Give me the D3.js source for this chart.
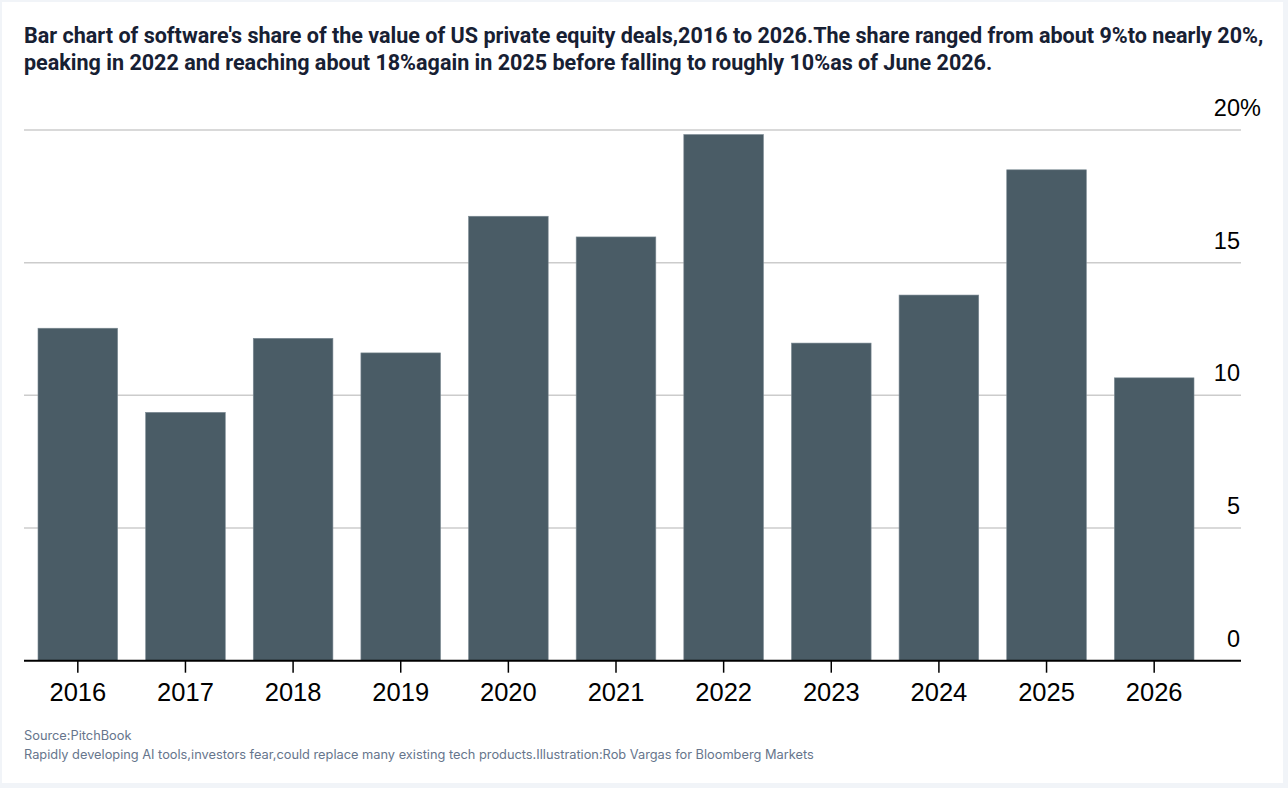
<!DOCTYPE html>
<html>
<head>
<meta charset="utf-8">
<script src="https://cdn.jsdelivr.net/npm/d3@7"></script>
<style>
html,body{margin:0;padding:0;background:#f1f4f8;}
#card{position:absolute;left:2px;top:2px;width:1281px;height:781px;background:#fff;}
svg{display:block;}
</style>
</head>
<body>
<div id="card"></div>
<script>
const categories = ["2016","2017","2018","2019","2020","2021","2022","2023","2024","2025","2026"];
const shareValues = [12.53, 9.36, 12.15, 11.6, 16.75, 15.97, 19.83, 11.97, 13.78, 18.5, 10.66];
const yTicks = [0, 5, 10, 15, 20];
const yTickLabels = ["0", "5", "10", "15", "20"];
const yUnit = "%";
const titleLines = [
  "Bar chart of software's share of the value of US private equity deals,2016 to 2026.The share ranged from about 9%to nearly 20%,",
  "peaking in 2022 and reaching about 18%again in 2025 before falling to roughly 10%as of June 2026."
];
const footerLines = [
  "Source:PitchBook",
  "Rapidly developing AI tools,investors fear,could replace many existing tech products.Illustration:Rob Vargas for Bloomberg Markets"
];

const W = 1281, H = 781;
const svg = d3.select("#card").append("svg").attr("width", W).attr("height", H);
const g = svg.append("g").attr("transform", "translate(-2,-2)");

const plotLeft = 24, plotRight = 1241, bandRight = 1208;
const y0 = 660.7, yTop = 130;

const x = d3.scaleBand().domain(categories).range([plotLeft, bandRight]).paddingInner(0.26).paddingOuter(0.13);
const y = d3.scaleLinear().domain([0, 20]).range([y0, yTop]);

// title
const title = g.append("g").selectAll("text").data(titleLines).join("text")
  .attr("x", 24).attr("y", (d, i) => 43 + i * 27)
  .attr("font-family", "Roboto, Inter, sans-serif")
  .attr("font-weight", 700).attr("font-size", 20)
  .attr("fill", "#172033")
  .text(d => d);
// fit first line to reference width
const n0 = title.nodes()[0];
const w0 = n0.getComputedTextLength();
const targetW = 1240;
const fs = 20 * targetW / w0;
title.attr("font-size", fs);

// gridlines
g.append("g").selectAll("line").data(yTicks.filter(t => t > 0)).join("line")
  .attr("x1", plotLeft).attr("x2", plotRight)
  .attr("y1", d => y(d)).attr("y2", d => y(d))
  .attr("stroke", "#cccccc").attr("stroke-width", 1.5);

// y labels
const yl = g.append("g").selectAll("g").data(yTicks).join("g");
yl.append("text")
  .attr("x", 1240).attr("y", d => y(d) - 14)
  .attr("text-anchor", "end")
  .attr("font-family", "'Liberation Sans', Arial, sans-serif")
  .attr("font-size", 23.5).attr("fill", "#000")
  .text((d, i) => yTickLabels[i]);
yl.filter(d => d === 20).append("text")
  .attr("x", 1240).attr("y", d => y(d) - 14)
  .attr("font-family", "'Liberation Sans', Arial, sans-serif")
  .attr("font-size", 23.5).attr("fill", "#000")
  .text(yUnit);

// bars
g.append("g").selectAll("rect").data(categories).join("rect")
  .attr("x", d => x(d)).attr("width", x.bandwidth())
  .attr("y", (d, i) => y(shareValues[i]))
  .attr("height", (d, i) => y(0) - y(shareValues[i]))
  .attr("fill", "#4a5c66").attr("stroke", "#7d8b94").attr("stroke-width", 0.6);

// x axis
const xAxis = d3.axisBottom(x).tickSize(12).tickSizeOuter(0).tickPadding(10);
const ax = g.append("g").attr("transform", `translate(0,${y0})`).call(xAxis);
ax.select(".domain").remove();
ax.append("line").attr("x1", plotLeft).attr("x2", plotRight).attr("y1", 0).attr("y2", 0)
  .attr("stroke", "#000").attr("stroke-width", 2);
ax.selectAll(".tick line").attr("stroke", "#000").attr("stroke-width", 1.5);
ax.selectAll(".tick text").attr("font-family", "'Liberation Sans', Arial, sans-serif")
  .attr("font-size", 25.5).attr("fill", "#000");

// footer
g.append("g").selectAll("text").data(footerLines).join("text")
  .attr("x", 24).attr("y", (d, i) => 740 + i * 19)
  .attr("font-family", "Inter, 'Noto Sans', sans-serif")
  .attr("font-size", 12.8).attr("fill", "#66758c")
  .text(d => d);
</script>
</body>
</html>
